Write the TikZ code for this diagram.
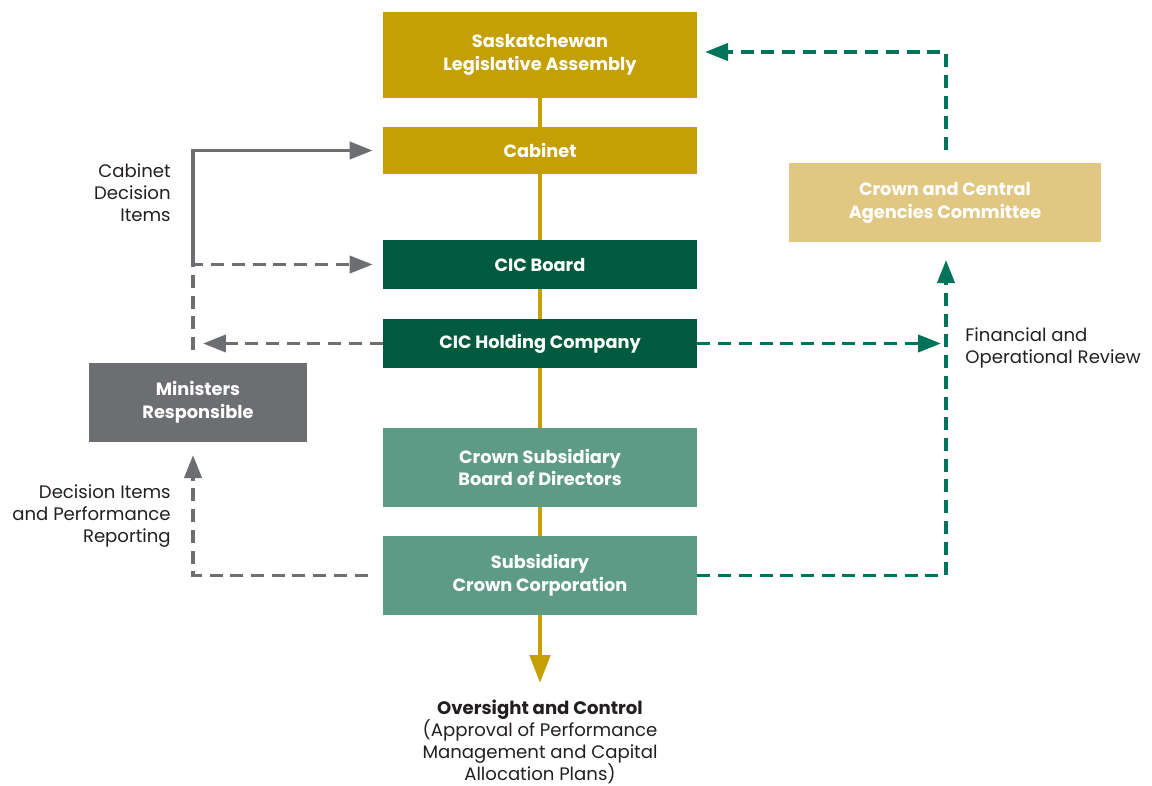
\documentclass[tikz,border=0pt]{standalone}
\usepackage{fontspec}
\setmainfont{Poppins}
\usetikzlibrary{arrows.meta,backgrounds}

\definecolor{saskgold}{HTML}{C4A005}
\definecolor{lightgold}{HTML}{E0C882}
\definecolor{cicgreen}{HTML}{005B3E}
\definecolor{crownteal}{HTML}{5E9B86}
\definecolor{mingray}{HTML}{6D6E71}
\definecolor{revgreen}{HTML}{00735A}
\definecolor{txtgray}{HTML}{231F20}

\tikzset{
 box/.style={minimum width=6.28cm, inner sep=0pt, align=center, text=white,
   font=\fontsize{10.1}{13}\selectfont\bfseries},
 goldbox/.style={box, fill=saskgold},
 greenbox/.style={box, fill=cicgreen, minimum height=0.98cm},
 tealbox/.style={box, fill=crownteal, minimum height=1.58cm},
 lbl/.style={text=txtgray, font=\fontsize{10.3}{12.5}\selectfont, inner sep=0pt},
 grayline/.style={draw=mingray, line width=2.2pt, -{Triangle[length=0.46cm,width=0.34cm]}},
 graydash/.style={grayline, dash pattern=on 7.4pt off 4.4pt},
 greendash/.style={draw=revgreen, line width=2.2pt, dash pattern=on 7.4pt off 4.4pt,
   -{Triangle[length=0.46cm,width=0.34cm]}}
}

\begin{document}
\begin{tikzpicture}[x=0.02cm,y=-0.02cm]
 \useasboundingbox (0,0) rectangle (1152,785);

 % main column
 \node[goldbox, minimum height=1.72cm] (sla) at (540,55) {Saskatchewan\\Legislative Assembly};
 \node[goldbox, minimum height=0.94cm] (cab) at (540,150.5) {Cabinet};
 \node[greenbox] (cicb) at (540,264.5) {CIC Board};
 \node[greenbox] (cich) at (540,343.5) {CIC Holding Company};
 \node[tealbox] (csb) at (540,467.5) {Crown Subsidiary\\Board of Directors};
 \node[tealbox] (scc) at (540,575.5) {Subsidiary\\Crown Corporation};

 % side boxes
 \node[box, fill=mingray, minimum width=4.36cm, minimum height=1.58cm] (min) at (198,402.5) {Ministers\\Responsible};
 \node[box, fill=lightgold, minimum width=6.24cm, minimum height=1.58cm] (ccac) at (945,202.5) {Crown and Central\\Agencies Committee};

 \coordinate (oc) at (540,683);
 \begin{scope}[on background layer]
  \draw[draw=saskgold, line width=2.8pt, -{Triangle[length=0.56cm,width=0.4cm]}] (sla.south) -- (oc);
 \end{scope}

 % ministers side
 \coordinate (g1) at (193,263);
 \coordinate (g2) at (193,350);
 \coordinate (g3) at (203,343.5);
 \coordinate (g4) at (193,455);
 \draw[grayline, shorten >=0.2cm] (g1) |- (cab.west);
 \draw[graydash, shorten >=0.2cm] (g2) |- (cicb.west);
 \draw[graydash] (cich.west) -- (g3);
 \draw[graydash, shorten <=0.3cm] (scc.west) -| (g4);

 % review side
 \coordinate (r1) at (941,343.5);
 \coordinate (r2) at (946,260);
 \coordinate (r3) at (946,150);
 \coordinate (r4) at (705,52);
 \draw[greendash] (cich.east) -- (r1);
 \draw[greendash] (scc.east) -| (r2);
 \draw[greendash] (r3) |- (r4);

 % labels
 \node[lbl, anchor=east, align=right] (cdi) at (171,193) {Cabinet\\Decision\\Items};
 \node[lbl, anchor=east, align=right] (dip) at (171,516) {Decision Items\\and Performance\\Reporting};
 \node[lbl, anchor=west, align=left] (for) at (965,348) {Financial and\\Operational Review};
 \node[lbl, align=center] (ovs) at (540,741.5) {\textbf{Oversight and Control}\\(Approval of Performance\\Management and Capital\\Allocation Plans)};
\end{tikzpicture}
\end{document}
